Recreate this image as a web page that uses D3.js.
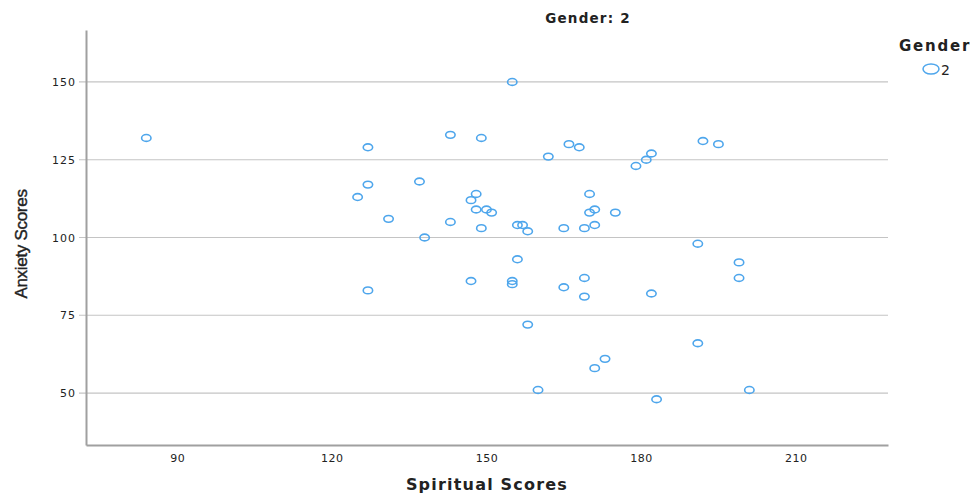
<!DOCTYPE html>
<html>
<head>
<meta charset="utf-8">
<script src="https://cdn.jsdelivr.net/npm/d3@7"></script>
<style>
  body { margin: 0; background: #fff; }
  svg { display: block; font-family: "DejaVu Sans", Verdana, sans-serif; }
</style>
</head>
<body>
<div id="chart"></div>
<script>
// Spiritual scores (x) and anxiety scores (y), Gender = 2
const spiritual = [84, 127, 127, 125, 131, 138, 127, 137, 143, 149, 155, 162, 166, 168, 179, 181, 182, 192, 195,
    148, 147, 148, 150, 151, 143, 149, 156, 157, 158, 165, 169, 171, 170, 170, 171, 175,
    191, 199, 199, 156, 147, 155, 155, 165, 169, 169, 182, 158, 191, 173, 171, 160, 201, 183];
const anxiety = [132, 129, 117, 113, 106, 100, 83, 118, 133, 132, 150, 126, 130, 129, 123, 125, 127, 131, 130,
    114, 112, 109, 109, 108, 105, 103, 104, 104, 102, 103, 103, 104, 114, 108, 109, 108,
    98, 92, 87, 93, 86, 86, 85, 84, 87, 81, 82, 72, 66, 61, 58, 51, 51, 48];
const xTicks = [90, 120, 150, 180, 210];
const yTicks = [50, 75, 100, 125, 150];
const groups = ["2"];

const width = 978, height = 494;
const margin = { left: 86, right: 90, top: 30, bottom: 49 };
const color = "#4ea6ec";

const svg = d3.select("#chart").append("svg")
    .attr("width", width)
    .attr("height", height);

const x = d3.scaleLinear().domain([72.3, 227.9]).range([margin.left, width - margin.right]);
const y = d3.scaleLinear().domain([33.3, 166.7]).range([height - margin.bottom, margin.top]);

// Horizontal grid lines
svg.append("g")
    .selectAll("line")
    .data(yTicks)
    .enter()
    .append("line")
    .attr("x1", margin.left - 7)
    .attr("x2", width - margin.right)
    .attr("y1", d => y(d))
    .attr("y2", d => y(d))
    .attr("stroke", "#c4c4c4")
    .attr("stroke-width", 1.2);

// Y axis
const yAxis = svg.append("g")
    .attr("transform", `translate(${margin.left},0)`)
    .call(d3.axisLeft(y).tickValues(yTicks).tickSize(0).tickPadding(10));
yAxis.select(".domain").attr("stroke", "#a0a0a0").attr("stroke-width", 2);
yAxis.selectAll("text")
    .attr("font-size", "11px")
    .attr("font-family", "'DejaVu Sans', sans-serif")
    .attr("fill", "#222")
    .style("letter-spacing", "1px");

// X axis
const xAxis = svg.append("g")
    .attr("transform", `translate(0,${height - margin.bottom})`)
    .call(d3.axisBottom(x).tickValues(xTicks).tickSize(0).tickPadding(9));
xAxis.select(".domain").attr("stroke", "#a0a0a0").attr("stroke-width", 2);
xAxis.selectAll("text")
    .attr("font-size", "11px")
    .attr("font-family", "'DejaVu Sans', sans-serif")
    .attr("fill", "#222")
    .style("letter-spacing", "0.5px");

// Points
const points = spiritual.map((s, i) => ({ s: s, a: anxiety[i] }));
svg.append("g")
    .selectAll("ellipse")
    .data(points)
    .enter()
    .append("ellipse")
    .attr("cx", d => x(d.s))
    .attr("cy", d => y(d.a))
    .attr("rx", 4.7)
    .attr("ry", 3.4)
    .attr("fill", "none")
    .attr("stroke", color)
    .attr("stroke-width", 1.6);

// Titles
svg.append("text")
    .attr("x", 588)
    .attr("y", 23)
    .attr("text-anchor", "middle")
    .attr("font-size", "13.5px")
    .attr("font-weight", "bold")
    .attr("fill", "#222")
    .style("letter-spacing", "1.2px")
    .text("Gender: 2");

svg.append("text")
    .attr("x", 487)
    .attr("y", 490)
    .attr("text-anchor", "middle")
    .attr("font-size", "16px")
    .attr("font-weight", "bold")
    .attr("fill", "#222")
    .style("letter-spacing", "1.2px")
    .text("Spiritual Scores");

svg.append("text")
    .attr("transform", `translate(27,${244}) rotate(-90)`)
    .attr("text-anchor", "middle")
    .attr("font-size", "17px")
    .attr("font-family", "'Liberation Sans Narrow', 'Liberation Sans', Arial, sans-serif")
    .attr("fill", "#222")
    .attr("stroke", "#222")
    .attr("stroke-width", 0.4)
    .style("letter-spacing", "-0.3px")
    .text("Anxiety Scores");

// Legend
const legend = svg.append("g").attr("transform", "translate(899,0)");
legend.append("text")
    .attr("x", 0)
    .attr("y", 51)
    .attr("font-size", "15px")
    .attr("font-weight", "bold")
    .attr("fill", "#222")
    .style("letter-spacing", "1.8px")
    .text("Gender");
const items = legend.selectAll(".legend-item")
    .data(groups)
    .enter()
    .append("g")
    .attr("class", "legend-item")
    .attr("transform", (d, i) => `translate(0,${69 + i * 20})`);
items.append("ellipse")
    .attr("cx", 32)
    .attr("cy", 0)
    .attr("rx", 8)
    .attr("ry", 5)
    .attr("fill", "none")
    .attr("stroke", color)
    .attr("stroke-width", 1.5);
items.append("text")
    .attr("x", 42)
    .attr("y", 6)
    .attr("font-size", "14px")
    .attr("fill", "#222")
    .text(d => d);
</script>
</body>
</html>
